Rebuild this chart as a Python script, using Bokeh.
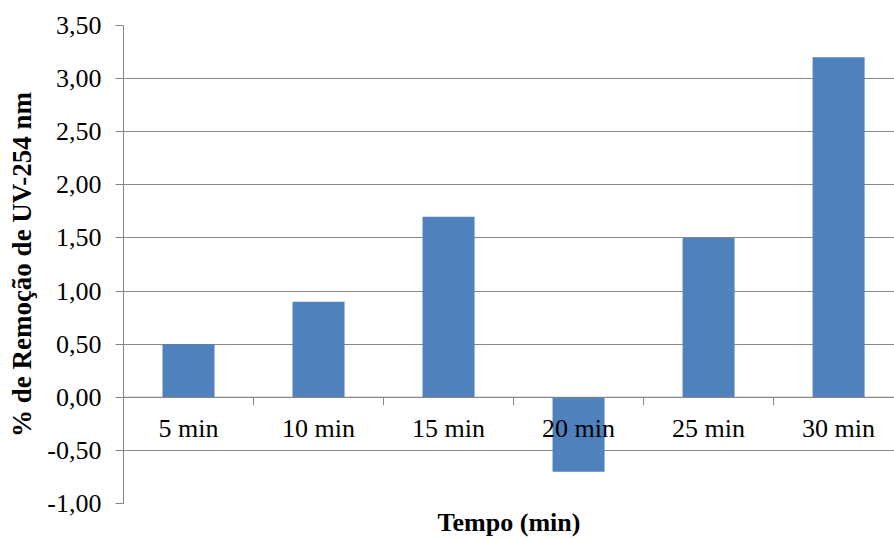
import math
from bokeh.plotting import figure
from bokeh.models import Range1d, FixedTicker, LinearAxis, Span
from bokeh.core.properties import value
from bokeh.embed import file_html
from bokeh.resources import INLINE

categories = ["5 min", "10 min", "15 min", "20 min", "25 min", "30 min"]
removal = [0.50, 0.90, 1.70, -0.70, 1.50, 3.20]
y_ticks = [-1.0, -0.5, 0.0, 0.5, 1.0, 1.5, 2.0, 2.5, 3.0, 3.5]
y_tick_labels = ["-1,00", "-0,50", "0,00", "0,50", "1,00", "1,50", "2,00", "2,50", "3,00", "3,50"]
x_title = "Tempo (min)"
y_title = "% de Remoção de UV-254 nm"

FONT = "Liberation Serif"
GRID = "#868686"
BAR = "#4F81BD"

positions = [i + 0.5 for i in range(len(categories))]
boundaries = list(range(1, len(categories)))

p = figure(width=894, height=539, output_backend="svg", toolbar_location=None,
           x_range=Range1d(0, 5.93), y_range=Range1d(-1, 3.5),
           x_axis_type=None,
           min_border_left=123, min_border_right=0, min_border_top=25, min_border_bottom=36)
p.outline_line_color = None
p.background_fill_color = "white"
p.border_fill_color = "white"

p.xgrid.visible = False
p.ygrid.ticker = FixedTicker(ticks=y_ticks)
p.ygrid.grid_line_color = GRID
p.ygrid.grid_line_width = 1

ya = p.yaxis[0]
ya.ticker = FixedTicker(ticks=y_ticks)
ya.major_label_overrides = dict(zip(y_ticks, y_tick_labels))
ya.axis_line_color = GRID
ya.major_tick_line_color = GRID
ya.major_tick_out = 8
ya.major_tick_in = 0
ya.minor_tick_line_color = None
ya.major_label_standoff = 14
ya.major_label_text_font = FONT
ya.major_label_text_font_size = "26px"
ya.major_label_text_color = "black"
ya.axis_label = y_title
ya.axis_label_text_font = FONT
ya.axis_label_text_font_size = "27px"
ya.axis_label_text_font_style = "bold"
ya.axis_label_text_color = "black"
ya.axis_label_standoff = 7

xa = LinearAxis(ticker=FixedTicker(ticks=[]), axis_line_color=None,
                major_tick_line_color=None, minor_tick_line_color=None,
                axis_label=x_title, axis_label_text_font=FONT,
                axis_label_text_font_size="26px", axis_label_text_font_style="bold",
                axis_label_text_color="black", axis_label_standoff=4)
p.add_layout(xa, "below")

p.vbar(x=positions, top=removal, bottom=0, width=0.4, fill_color=BAR, line_color=None)

p.add_layout(Span(location=0, dimension="width", line_color=GRID, line_width=1))
p.ray(x=boundaries, y=[0] * len(boundaries), length=8, length_units="screen",
      angle=-math.pi / 2, line_color=GRID, line_width=1)

p.text(x=positions, y=[0] * len(categories), text=categories,
       text_font=value(FONT), text_font_size="26px", text_align="center",
       text_baseline="middle", y_offset=31, text_color="black")

open("out.html", "w").write(file_html(p, INLINE))
